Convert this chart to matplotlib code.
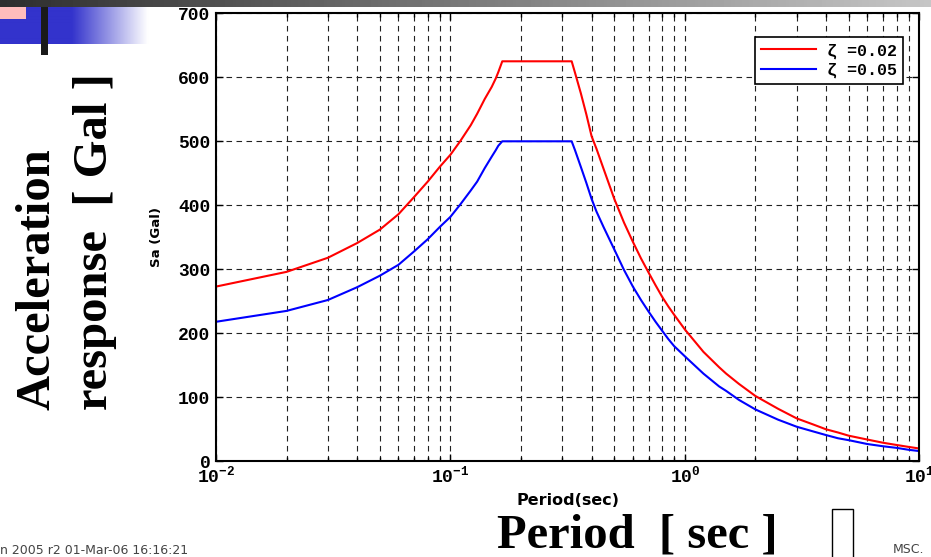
import numpy as np
import matplotlib
matplotlib.use("Agg")
import matplotlib.pyplot as plt
from matplotlib.patches import Rectangle
from matplotlib.ticker import LogLocator, NullFormatter, FixedLocator, FixedFormatter

# ---- data ----
period = [0.01, 0.02, 0.03, 0.04, 0.05, 0.06, 0.07, 0.08, 0.09, 0.10,
          0.11, 0.122, 0.13, 0.14, 0.15, 0.156, 0.16, 0.1664, 0.25, 0.329,
          0.34, 0.36, 0.38, 0.40, 0.42, 0.45, 0.50, 0.55, 0.60, 0.65,
          0.70, 0.75, 0.80, 0.85, 0.90, 1.0, 1.2, 1.4, 1.5, 1.7,
          2.0, 2.5, 3.0, 3.5, 4.0, 4.5, 5.0, 6.0, 7.0, 8.0,
          9.0, 10.0]
sa_damp_002 = [273, 296, 318, 341, 362, 386, 413, 437, 460, 479,
               500, 525, 543, 566, 585, 598, 608, 625, 625, 625,
               607, 575, 542, 508, 488, 457, 410, 373, 343, 317,
               295, 275, 257, 242, 229, 206, 171, 147, 137, 121,
               102, 82, 67, 58, 50, 45, 40, 34, 29, 25.5,
               22.5, 20]
sa_damp_005 = [218, 235, 252, 272, 290, 307, 328, 347, 366, 382,
               401, 423, 437, 458, 476, 486, 493, 500, 500, 500,
               486, 460, 435, 410, 390, 366, 331, 299, 273, 252,
               234, 218, 204, 191, 180, 164, 137, 117, 110, 96,
               81, 65, 54, 47, 41, 36, 33, 27, 23.5, 21,
               18, 16]
series_labels = ["\u03b6 =0.02", "\u03b6 =0.05"]
y_ticks = [0, 100, 200, 300, 400, 500, 600, 700]
x_major = [1e-2, 1e-1, 1e0, 1e1]
x_tick_labels = [r"$10^{-2}$", r"$10^{-1}$", r"$10^{0}$", r"$10^{1}$"]

plt.rcParams["mathtext.fontset"] = "custom"
plt.rcParams["mathtext.rm"] = "Liberation Mono:bold"
plt.rcParams["mathtext.it"] = "Liberation Mono:bold"
plt.rcParams["mathtext.bf"] = "Liberation Mono:bold"
plt.rcParams["mathtext.default"] = "rm"

W, H = 931, 557
fig = plt.figure(figsize=(W / 100, H / 100), dpi=100)
fig.patch.set_facecolor("white")

def fx(px):
    return px / W

def fy(py):
    return 1 - py / H

# ---- slide decorations ----
gax = fig.add_axes([0, fy(7), 1, 7 / H])
grad = np.linspace(46 / 255, 198 / 255, 256)[None, :]
gax.imshow(grad, cmap="gray", vmin=0, vmax=1, aspect="auto", extent=[0, 1, 0, 1])
gax.set_axis_off()

bax = fig.add_axes([0, fy(44.5), fx(150), 37.5 / H])
xs = np.linspace(0, 150, 300)
t = np.clip((xs - 72) / (148 - 72), 0, 1)
blue = np.array([51, 51, 204]) / 255
img = (1 - t)[:, None] * blue[None, :] + t[:, None] * np.ones(3)[None, :]
bax.imshow(img[None, :, :], aspect="auto", extent=[0, 1, 0, 1])
bax.set_axis_off()

fig.patches.append(Rectangle((0, fy(19)), fx(26), 12 / H, transform=fig.transFigure,
                             facecolor="#ffbcbc", edgecolor="none", zorder=5))
fig.patches.append(Rectangle((fx(41), fy(54.5)), fx(6.5), 47.5 / H, transform=fig.transFigure,
                             facecolor="#1a1a1a", edgecolor="none", zorder=5))
fig.patches.append(Rectangle((fx(832), fy(560)), fx(21), 51 / H, transform=fig.transFigure,
                             facecolor="none", edgecolor="black", lw=1.0, zorder=5))

# ---- main axes ----
ax = fig.add_axes([fx(216), fy(461.3), (919.3 - 216) / W, 448 / H])
ax.plot(period, sa_damp_002, color="#ff0000", lw=1.5, label=series_labels[0])
ax.plot(period, sa_damp_005, color="#0000ff", lw=1.5, label=series_labels[1])
ax.set_xscale("log")
ax.set_xlim(1e-2, 1e1)
ax.set_ylim(0, 700)
ax.xaxis.set_major_locator(FixedLocator(x_major))
ax.xaxis.set_major_formatter(FixedFormatter(x_tick_labels))
ax.xaxis.set_minor_locator(LogLocator(base=10, subs=np.arange(2, 10)))
ax.xaxis.set_minor_formatter(NullFormatter())
ax.set_yticks(y_ticks)
ax.set_yticklabels([str(v) for v in y_ticks])

dash = (0, (5, 4))
ax.grid(True, which="major", axis="both", ls=dash, color="#222222", lw=0.8)
ax.grid(True, which="minor", axis="x", ls=dash, color="#222222", lw=0.8)

for s in ax.spines.values():
    s.set_linewidth(1.5)
    s.set_color("black")
ax.tick_params(which="both", direction="in", top=True, right=True, width=1.0)
ax.tick_params(which="major", length=5)
ax.tick_params(which="minor", length=3)
ax.tick_params(axis="x", which="major", pad=3)
ax.tick_params(axis="y", which="major", pad=4)
for lab in ax.get_yticklabels():
    lab.set_fontfamily("Liberation Mono")
    lab.set_fontweight("bold")
    lab.set_fontsize(13)
for lab in ax.get_xticklabels():
    lab.set_fontsize(13)

ax.set_xlabel("Period(sec)", fontfamily="DejaVu Sans", fontweight="bold", fontsize=11.5)
ax.xaxis.set_label_coords(0.5, -0.071)
ax.set_ylabel("Sa (Gal)", fontfamily="DejaVu Sans", fontweight="bold", fontsize=9.5)
ax.yaxis.set_label_coords(-0.0754, 0.5)

leg = ax.legend(loc="upper right", bbox_to_anchor=(fx(903.3), fy(37.3)),
                bbox_transform=fig.transFigure, borderaxespad=0, fancybox=False,
                frameon=True, edgecolor="black", framealpha=1,
                prop={"family": "Liberation Mono", "weight": "bold", "size": 12},
                handlelength=3.3, handletextpad=0.7, labelspacing=0.25,
                borderpad=0.35)
leg.get_frame().set_linewidth(1.2)

# ---- slide texts ----
big = dict(fontfamily="Liberation Serif", fontweight="bold", fontsize=35)
fig.text(fx(50), fy(410), "Acceleration", rotation=90, rotation_mode="anchor",
         ha="left", va="baseline", **big)
fig.text(fx(107), fy(410), "response  [ Gal ]", rotation=90, rotation_mode="anchor",
         ha="left", va="baseline", **big)
fig.text(fx(497), fy(548), "Period  [ sec ]", ha="left", va="baseline", **big)
fig.text(fx(0), fy(554), "n 2005 r2 01-Mar-06 16:16:21", ha="left", va="baseline",
         fontfamily="DejaVu Sans", fontsize=9, color="#444444")
fig.text(fx(893), fy(553), "MSC.", ha="left", va="baseline",
         fontfamily="DejaVu Sans", fontsize=9, color="#444444")

fig.savefig("out.png", dpi=100, facecolor="white")
